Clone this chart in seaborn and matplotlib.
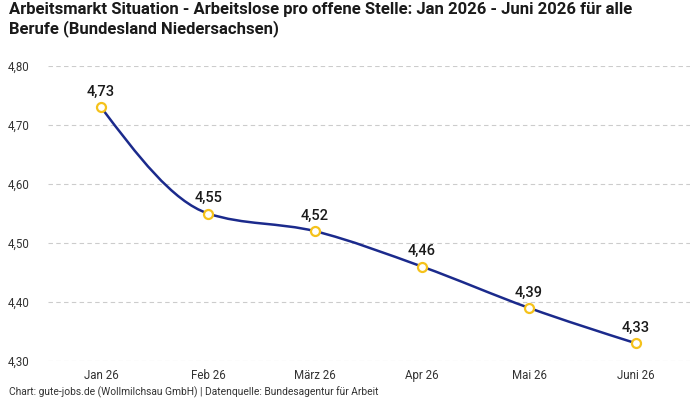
import numpy as np
import pandas as pd
import matplotlib
matplotlib.use("Agg")
import matplotlib.pyplot as plt
from matplotlib.path import Path
from matplotlib.patches import PathPatch
from matplotlib import font_manager
import seaborn as sns

# ---- data ----
months = ["Jan 26", "Feb 26", "März 26", "Apr 26", "Mai 26", "Juni 26"]
ratio = [4.73, 4.55, 4.52, 4.46, 4.39, 4.33]
y_ticks = [4.30, 4.40, 4.50, 4.60, 4.70, 4.80]

title = ("Arbeitsmarkt Situation - Arbeitslose pro offene Stelle: Jan 2026 - Juni 2026 für alle\n"
         "Berufe (Bundesland Niedersachsen)")
footer = "Chart: gute-jobs.de (Wollmilchsau GmbH) | Datenquelle: Bundesagentur für Arbeit"

LINE = "#1b2a8c"
MARKER = "#f5c21b"
TEXT = "#1a1a1a"

df = pd.DataFrame({"Monat": months, "Wert": ratio, "pos": range(len(months))})

sns.set_theme(style="white")
plt.rcParams["font.family"] = ["Roboto", "DejaVu Sans"]

available = {f.name for f in font_manager.fontManager.ttflist}
title_font = "Liberation Sans Narrow" if "Liberation Sans Narrow" in available else "Roboto"

fig = plt.figure(figsize=(7, 4), dpi=100)
ax = fig.add_axes([0.068, 0.0975, 0.917, 0.7375])


# smooth line: monotone cubic bezier through the data points (like d3 curveMonotoneX)
def monotone_path(xs, ys):
    xs = np.asarray(xs, float)
    ys = np.asarray(ys, float)
    n = len(xs)
    h = np.diff(xs)
    s = np.diff(ys) / h
    t = np.zeros(n)
    for i in range(1, n - 1):
        p = (s[i - 1] * h[i] + s[i] * h[i - 1]) / (h[i - 1] + h[i])
        t[i] = (np.sign(s[i - 1]) + np.sign(s[i])) * min(abs(s[i - 1]), abs(s[i]), 0.5 * abs(p))
    t[0] = (3 * s[0] - t[1]) / 2
    t[-1] = (3 * s[-1] - t[-2]) / 2
    verts = [(xs[0], ys[0])]
    codes = [Path.MOVETO]
    for i in range(n - 1):
        dx = (xs[i + 1] - xs[i]) / 3
        verts += [(xs[i] + dx, ys[i] + dx * t[i]),
                  (xs[i + 1] - dx, ys[i + 1] - dx * t[i + 1]),
                  (xs[i + 1], ys[i + 1])]
        codes += [Path.CURVE4] * 3
    return Path(verts, codes)


ax.add_patch(PathPatch(monotone_path(df["pos"], df["Wert"]), facecolor="none",
                       edgecolor=LINE, linewidth=1.8, zorder=2))

sns.scatterplot(data=df, x="pos", y="Wert", ax=ax, s=42, facecolor="white",
                edgecolor=MARKER, linewidth=1.6, zorder=3, legend=False)

for x, y in zip(df["pos"], df["Wert"]):
    ax.annotate(f"{y:.2f}".replace(".", ","), (x, y), xytext=(0, 11),
                textcoords="offset points", ha="center", va="center",
                fontsize=10.5, color=TEXT, fontweight="medium")

ax.set_xlim(-0.5, len(months) - 0.5)
ax.set_ylim(4.30, 4.80)
ax.set_xticks(range(len(months)))
ax.set_xticklabels(months)
ax.set_yticks(y_ticks)
ax.set_yticklabels([f"{v:.2f}".replace(".", ",") for v in y_ticks], ha="left")
ax.tick_params(axis="y", length=0, pad=29, labelsize=8.3, labelcolor="#333333")
ax.tick_params(axis="x", length=0, pad=6, labelsize=8.3, labelcolor="#333333")
ax.set_xlabel("")
ax.set_ylabel("")
ax.grid(axis="y", color="#cccccc", linestyle=(0, (4, 3)), linewidth=0.8)
ax.grid(axis="x", visible=False)
ax.set_axisbelow(True)
for sp in ax.spines.values():
    sp.set_visible(False)

fig.text(0.013, 0.995, title, ha="left", va="top", fontsize=12, fontweight="bold",
         color=TEXT, family=[title_font, "DejaVu Sans"], linespacing=1.25)
fig.text(0.013, 0.004, footer, ha="left", va="bottom", fontsize=7.4, color="#333333")

fig.savefig("out.png", dpi=100, facecolor="white")
